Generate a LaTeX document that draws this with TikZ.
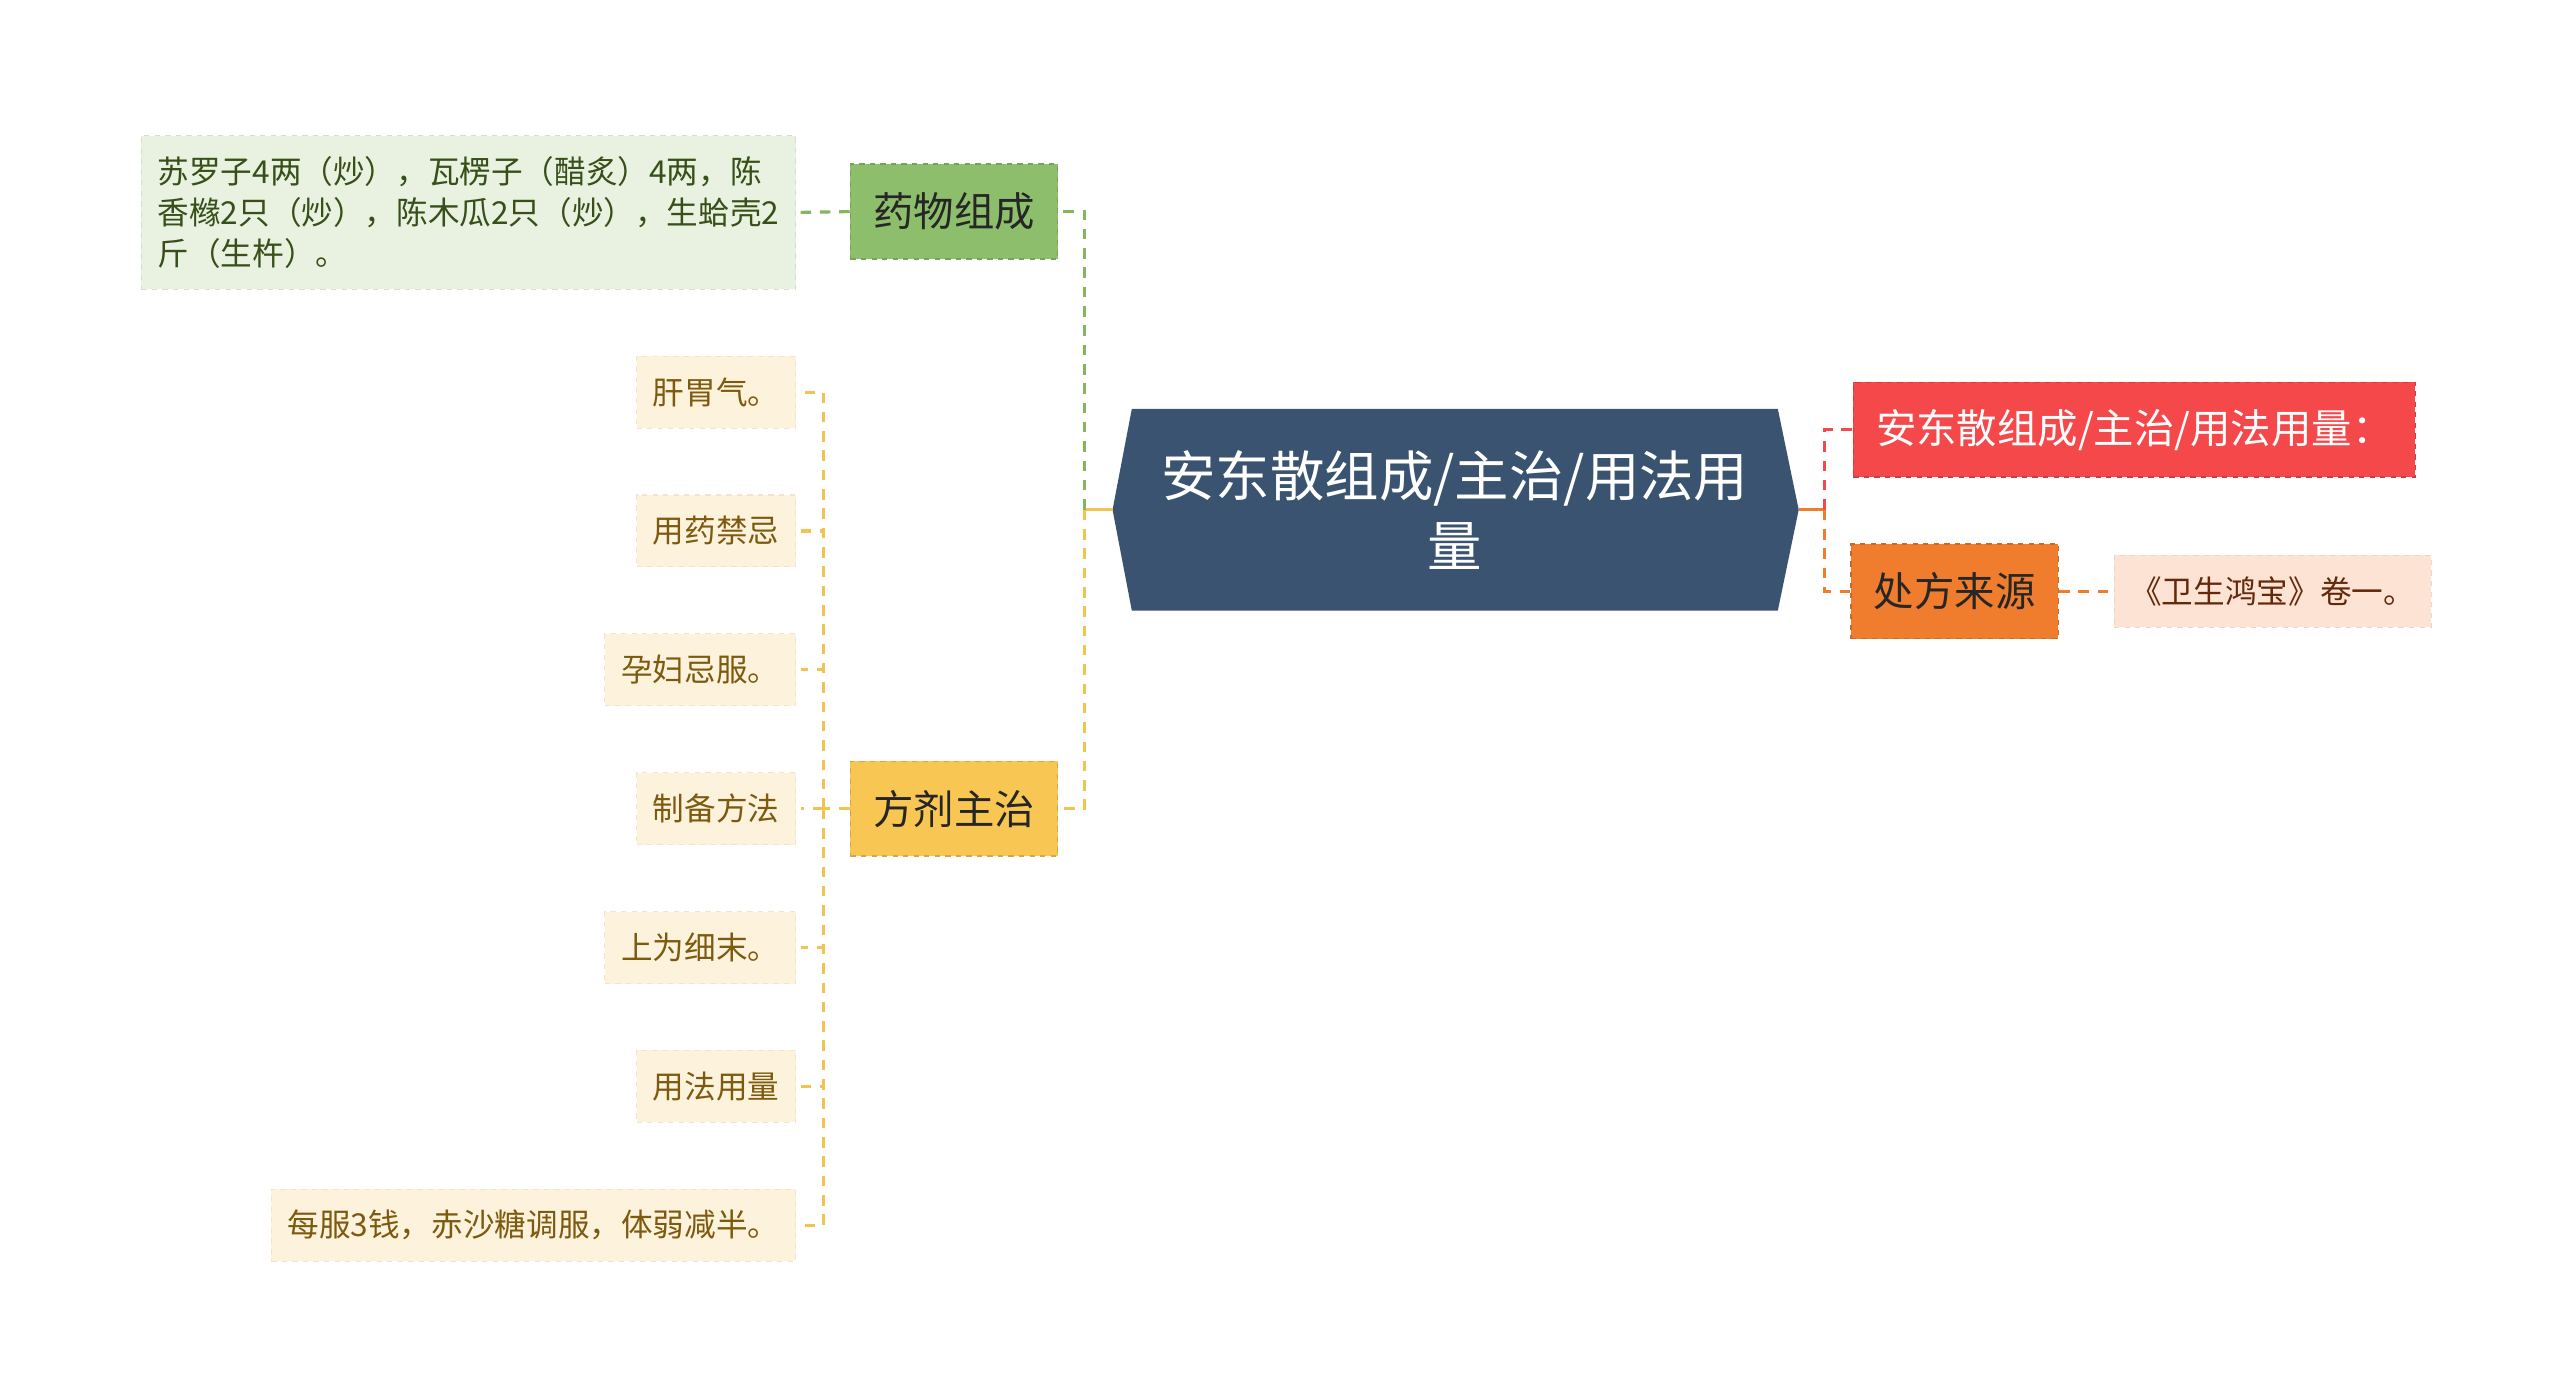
\documentclass[tikz,border=0pt]{standalone}
\usepackage{fontspec}
\newfontfamily\cjk{Noto Sans CJK SC}
\usepackage{tikz}
\usetikzlibrary{backgrounds}
\newlength\upx
\setlength\upx{0.0327cm}
\definecolor{hubblue}{RGB}{58, 83, 112}
\definecolor{mygreen}{RGB}{141, 190, 107}
\definecolor{greenleaf}{RGB}{233, 241, 225}
\definecolor{greentext}{RGB}{55, 80, 25}
\definecolor{myyellow}{RGB}{248, 198, 83}
\definecolor{yellowleaf}{RGB}{253, 243, 220}
\definecolor{yellowtext}{RGB}{125, 90, 15}
\definecolor{yellowline}{RGB}{243, 195, 80}
\definecolor{myred}{RGB}{245, 72, 75}
\definecolor{myorange}{RGB}{240, 124, 46}
\definecolor{orangeleaf}{RGB}{252, 227, 212}
\definecolor{orangetext}{RGB}{100, 40, 10}
\definecolor{greenline}{RGB}{130, 182, 95}
\tikzstyle{hub} = [inner sep=0, minimum width=395\upx, minimum height=123\upx,
    text=white, align=center, font=\cjk\fontsize{31}{40}\selectfont]
\tikzstyle{branch} = [inner xsep=14\upx, inner ysep=0, minimum height=58\upx,
    dashed, line width=0.8, font=\cjk\fontsize{23}{28}\selectfont]
\tikzstyle{leaf} = [inner xsep=10\upx, inner ysep=0, minimum height=44\upx,
    outer sep=3\upx, dashed, line width=0.6, align=left,
    font=\cjk\fontsize{18}{23.5}\selectfont]
\tikzstyle{link} = [line width=1.8, dash pattern=on 6pt off 5pt]

\begin{document}
\begin{tikzpicture}[x=\upx, y=-\upx]

\useasboundingbox (-1,-1) rectangle (1566,852);

%%% centre
\coordinate (tl) at (680,311);
\coordinate (tr) at (1100,311);
\node[hub] (title) at (889.5,311) {安东散组成/主治/用法用\\量};
\begin{scope}[on background layer]
\fill[hubblue] (title.north west) -- (title.north east) -- (tr)
    -- (title.south east) -- (title.south west) -- (tl) -- cycle;
\end{scope}

%%% left branches
\node[branch, fill=mygreen, draw=mygreen!85!black, minimum width=124\upx, text=black!85] (yaowu) at (583,128.5) {药物组成};
\node[branch, fill=myyellow, draw=myyellow!85!black, minimum width=124\upx, text=black!85] (fangji) at (583,494) {方剂主治};

\node[leaf, fill=greenleaf, draw=greenleaf!92!black, text=greentext, minimum height=94\upx, anchor=east] (zucheng) at (489,129)
    {苏罗子4两（炒），瓦楞子（醋炙）4两，陈\\香橼2只（炒），陈木瓜2只（炒），生蛤壳2\\斤（生杵）。};

\node[leaf, fill=yellowleaf, draw=yellowleaf!94!black, text=yellowtext, anchor=east] (gan) at (489,239) {肝胃气。};
\node[leaf, fill=yellowleaf, draw=yellowleaf!94!black, text=yellowtext, anchor=east] (jinji) at (489,324) {用药禁忌};
\node[leaf, fill=yellowleaf, draw=yellowleaf!94!black, text=yellowtext, anchor=east] (yunfu) at (489,409) {孕妇忌服。};
\node[leaf, fill=yellowleaf, draw=yellowleaf!94!black, text=yellowtext, anchor=east] (zhibei) at (489,494) {制备方法};
\node[leaf, fill=yellowleaf, draw=yellowleaf!94!black, text=yellowtext, anchor=east] (ximo) at (489,579) {上为细末。};
\node[leaf, fill=yellowleaf, draw=yellowleaf!94!black, text=yellowtext, anchor=east] (yongfa) at (489,664) {用法用量};
\node[leaf, fill=yellowleaf, draw=yellowleaf!94!black, text=yellowtext, anchor=east] (meifu) at (489,749) {每服3钱，赤沙糖调服，体弱减半。};

%%% right branches
\node[branch, fill=myred, draw=myred!85!black, text=white, anchor=west] (laiyuan) at (1133,262) {安东散组成/主治/用法用量：};
\node[branch, fill=myorange, draw=myorange!85!black, minimum width=125\upx, text=black!85] (chufang) at (1195.5,361) {处方来源};
\node[leaf, fill=orangeleaf, draw=orangeleaf!94!black, text=orangetext, anchor=west] (juan) at (1290,361) {《卫生鸿宝》卷一。};

%%% connectors
\coordinate (jl) at (663,311);
\coordinate (jy) at (503,494);
\coordinate (jr) at (1116,311);

\draw[yellowline, line width=1.8] (tl) -- (jl);
\draw[link, greenline] (jl) |- (yaowu.east);
\draw[link, yellowline] (jl) |- (fangji.east);
\draw[link, greenline] (yaowu.west) -- (zucheng.east);

\draw[link, yellowline] (fangji.west) -- (jy);
\foreach \leafname in {gan, jinji, yunfu, zhibei, ximo, yongfa, meifu}
    \draw[link, yellowline] (jy) |- (\leafname.east);

\draw[myorange, line width=1.8] (tr) -- (jr);
\draw[link, myred] (jr) |- (laiyuan.west);
\draw[link, myorange] (jr) |- (chufang.west);
\draw[link, myorange] (chufang.east) -- (juan.west);

\end{tikzpicture}
\end{document}
